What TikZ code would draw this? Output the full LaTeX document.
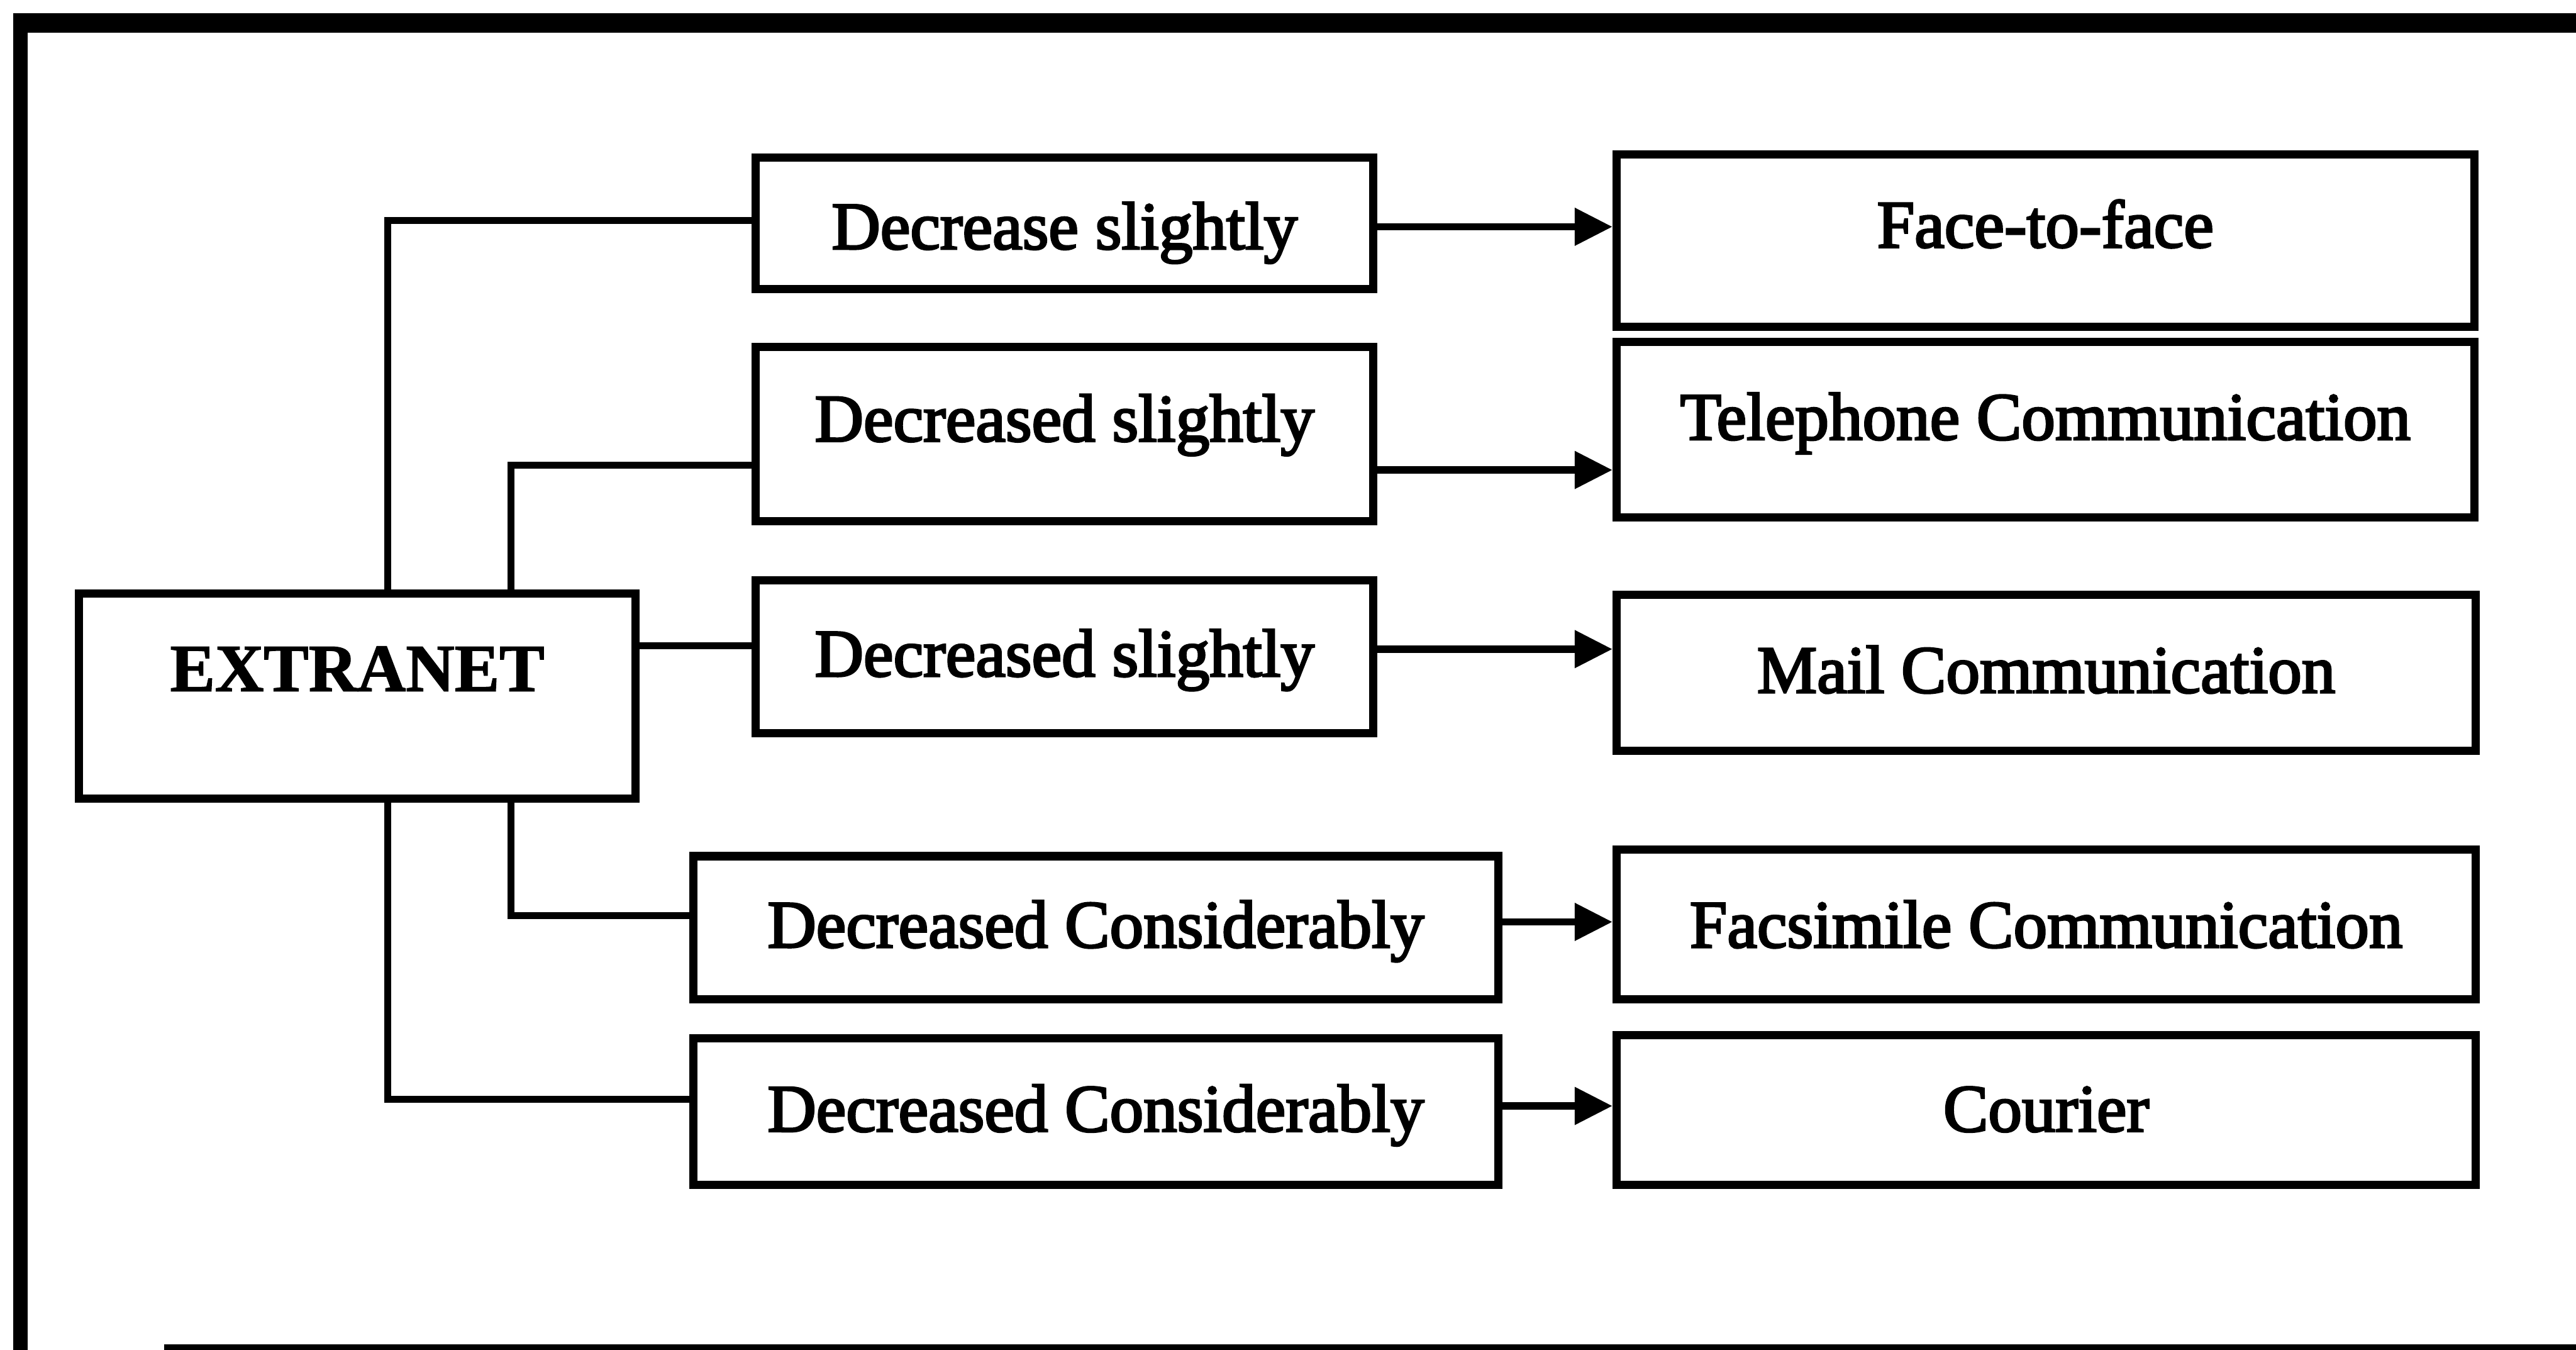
\documentclass[tikz,border=0pt]{standalone}
\usepackage{fontspec}
\setmainfont{Liberation Serif}
\newfontfamily\heavyserif[FakeBold=3]{Liberation Serif}
\newfontfamily\heavybold[FakeBold=1.5]{Liberation Serif Bold}
\usetikzlibrary{arrows.meta}

\tikzset{
  box/.style={draw, line width=5pt, rectangle, inner sep=0pt},
  lbl/.style={font=\heavyserif\fontsize{41pt}{41pt}\selectfont, inner sep=0pt, anchor=base},
  hdr/.style={font=\heavybold\fontsize{41pt}{41pt}\selectfont, inner sep=0pt, anchor=base},
  link/.style={line width=4.2pt},
  arr/.style={line width=4.5pt, -{Triangle[length=23pt,width=22pt]}},
  frame/.style={line width=#1},
}

\begin{document}
\begin{tikzpicture}[x=1pt, y=-1pt]
  \useasboundingbox (0,0) rectangle (1568,821.5);

  % page frame (top and left rules, thin rule along the foot)
  \draw[frame=12pt] (8,14) -- (1568,14);
  \draw[frame=9pt] (12.5,8) -- (12.5,830);
  \draw[frame=5pt] (100,820.5) -- (1568,820.5);

  % source
  \node[box, minimum width=339pt, minimum height=125pt] (ext) at (217.5,423.5) {};
  \node[hdr] (extT) at (217.5,420.5) {EXTRANET};

  % middle column: degree of change
  \node[box, minimum width=376pt, minimum height=80pt]  (d1) at (648,136) {};
  \node[box, minimum width=376pt, minimum height=106pt] (d2) at (648,264) {};
  \node[box, minimum width=376pt, minimum height=93pt]  (d3) at (648,399.5) {};
  \node[box, minimum width=490pt, minimum height=87pt]  (d4) at (667,564.5) {};
  \node[box, minimum width=490pt, minimum height=89pt]  (d5) at (667,676.5) {};

  \node[lbl] (d1T) at (648,151.5) {Decrease slightly};
  \node[lbl] (d2T) at (648,268.5) {Decreased slightly};
  \node[lbl] (d3T) at (648,411.5) {Decreased slightly};
  \node[lbl] (d4T) at (667,576.5) {Decreased Considerably};
  \node[lbl] (d5T) at (667,688.5) {Decreased Considerably};

  % right column: communication channels
  \node[box, minimum width=522pt, minimum height=105pt] (c1) at (1245,146.5) {};
  \node[box, minimum width=522pt, minimum height=107pt] (c2) at (1245,261.5) {};
  \node[box, minimum width=523pt, minimum height=95pt]  (c3) at (1245.5,409.5) {};
  \node[box, minimum width=523pt, minimum height=91pt]  (c4) at (1245.5,562.5) {};
  \node[box, minimum width=523pt, minimum height=91pt]  (c5) at (1245.5,675.5) {};

  \node[lbl] (c1T) at (1245,150.5) {Face-to-face};
  \node[lbl] (c2T) at (1245,267.5) {Telephone Communication};
  \node[lbl] (c3T) at (1245.5,421.5) {Mail Communication};
  \node[lbl] (c4T) at (1245.5,576.5) {Facsimile Communication};
  \node[lbl] (c5T) at (1245.5,688.5) {Courier};

  % branch levels
  \coordinate (o1) at (236,134);
  \coordinate (o2) at (311,283);
  \coordinate (o3) at (0,393);
  \coordinate (o4) at (311,557);
  \coordinate (o5) at (236,669);

  \draw[link] (ext.north -| o1) |- (d1.west |- o1);
  \draw[link] (ext.north -| o2) |- (d2.west |- o2);
  \draw[link] (ext.east |- o3) -- (d3.west |- o3);
  \draw[link] (ext.south -| o4) |- (d4.west |- o4);
  \draw[link] (ext.south -| o5) |- (d5.west |- o5);

  % arrow levels
  \coordinate (a1) at (0,138);
  \coordinate (a2) at (0,286);
  \coordinate (a3) at (0,395);
  \coordinate (a4) at (0,561);
  \coordinate (a5) at (0,673);

  \draw[arr] (d1.east |- a1) -- (c1.west |- a1);
  \draw[arr] (d2.east |- a2) -- (c2.west |- a2);
  \draw[arr] (d3.east |- a3) -- (c3.west |- a3);
  \draw[arr] (d4.east |- a4) -- (c4.west |- a4);
  \draw[arr] (d5.east |- a5) -- (c5.west |- a5);
\end{tikzpicture}
\end{document}
